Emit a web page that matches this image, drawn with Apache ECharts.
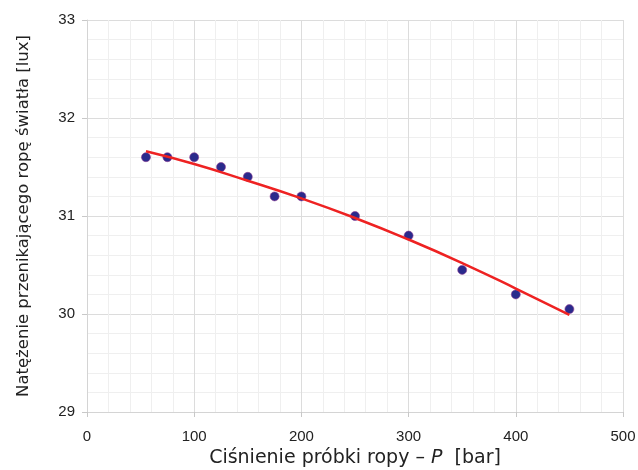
<!DOCTYPE html>
<html><head><meta charset="utf-8">
<script src="https://cdn.jsdelivr.net/npm/echarts@6/dist/echarts.min.js"></script>
<style>html,body{margin:0;padding:0;background:#fff}#c{width:638px;height:470px}</style>
</head><body><div id="c"></div>
<script>
const pressure = [55, 75, 100, 125, 150, 175, 200, 250, 300, 350, 400, 450];
const intensity = [31.6, 31.6, 31.6, 31.5, 31.4, 31.2, 31.2, 31.0, 30.8, 30.45, 30.2, 30.05];
const fitX = [55, 100, 150, 200, 250, 300, 350, 400, 450];
const fitY = [31.66, 31.53, 31.36, 31.18, 30.98, 30.76, 30.52, 30.26, 29.99];
const xTicks = [0, 100, 200, 300, 400, 500];
const yTicks = [29, 30, 31, 32, 33];

const font = 'Liberation Sans, Arial, sans-serif';
const titleFont = 'DejaVu Sans, sans-serif';
const chart = echarts.init(document.getElementById('c'));
chart.setOption({
  animation: false,
  backgroundColor: '#fff',
  grid: { left: 87, right: 15, top: 20, bottom: 58, containLabel: false, outerBoundsMode: 'none' },
  xAxis: {
    type: 'value', min: xTicks[0], max: xTicks[xTicks.length - 1], interval: 100,
    name: 'Ciśnienie próbki ropy – {i|P}  [bar]',
    nameLocation: 'middle', nameGap: 36,
    nameTextStyle: { fontFamily: titleFont, fontSize: 19, color: '#222',
      rich: { i: { fontStyle: 'italic', fontFamily: titleFont, fontSize: 19, color: '#222' } } },
    axisLine: { show: true, lineStyle: { color: '#d4d4d4', width: 1 } },
    axisTick: { show: true, length: 5, lineStyle: { color: '#c8c8c8' } },
    axisLabel: { fontFamily: font, fontSize: 15, color: '#222', margin: 17 },
    splitLine: { show: true, lineStyle: { color: '#dcdcdc', width: 1 } },
    minorTick: { show: false, splitNumber: 5 },
    minorSplitLine: { show: true, lineStyle: { color: '#efefef', width: 1 } }
  },
  yAxis: {
    type: 'value', min: yTicks[0], max: yTicks[yTicks.length - 1], interval: 1,
    name: 'Natężenie przenikającego ropę światła [lux]',
    nameLocation: 'middle', nameGap: 55,
    nameTextStyle: { fontFamily: titleFont, fontSize: 16.5, color: '#222' },
    axisLine: { show: true, lineStyle: { color: '#d4d4d4', width: 1 } },
    axisTick: { show: true, length: 5, lineStyle: { color: '#c8c8c8' } },
    axisLabel: { fontFamily: font, fontSize: 15, color: '#222', margin: 12 },
    splitLine: { show: true, lineStyle: { color: '#dcdcdc', width: 1 } },
    minorTick: { show: false, splitNumber: 5 },
    minorSplitLine: { show: true, lineStyle: { color: '#efefef', width: 1 } }
  },
  series: [
    {
      type: 'line', smooth: true, symbol: 'none', z: 3,
      data: fitX.map((x, i) => [x, fitY[i]]),
      lineStyle: { color: '#ee2222', width: 2.5 }
    },
    {
      type: 'scatter', symbolSize: 9, z: 2,
      data: pressure.map((x, i) => [x, intensity[i]]),
      itemStyle: { color: '#2a2a8c', borderColor: '#8e3c92', borderWidth: 0.6, opacity: 1 }
    }
  ]
});
</script></body></html>
